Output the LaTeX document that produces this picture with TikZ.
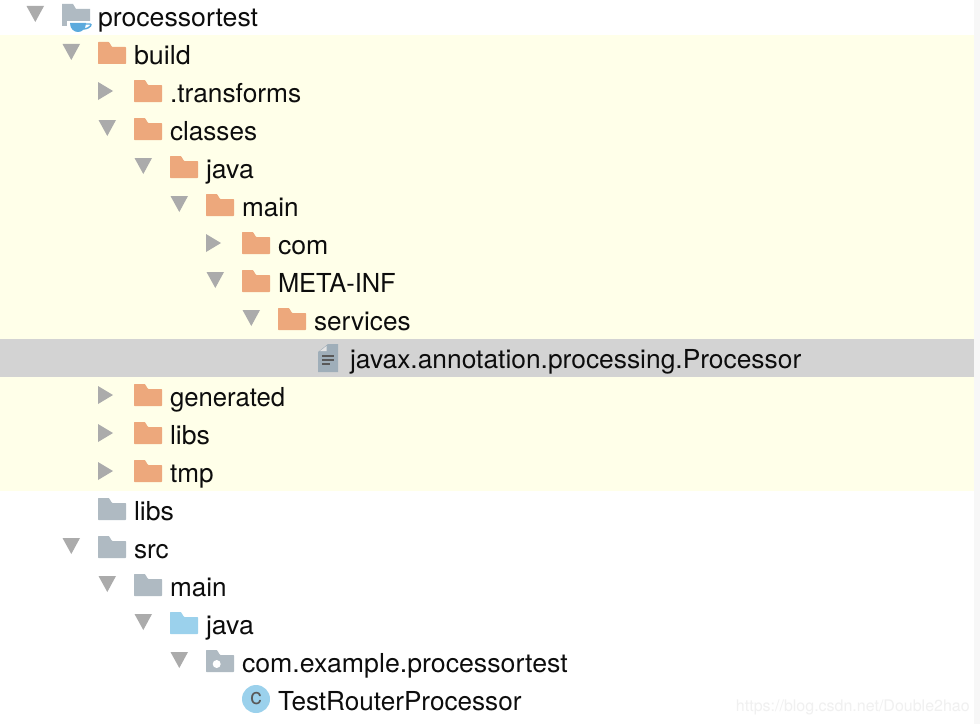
\documentclass[tikz,border=0pt]{standalone}
\usepackage{fontspec}
\usepackage{graphicx}
\setmainfont{TeX Gyre Heros}
\definecolor{bandyellow}{HTML}{FFFFE9}
\definecolor{selgrey}{HTML}{D3D3D3}
\definecolor{orangefolder}{HTML}{EDA87C}
\definecolor{greyfolder}{HTML}{AFBAC2}
\definecolor{bluefolder}{HTML}{9BD1EC}
\definecolor{cupblue}{HTML}{5BAADD}
\definecolor{trigrey}{HTML}{ABABAB}
\definecolor{filegrey}{HTML}{9FAEB9}
\definecolor{stripgrey}{HTML}{F7F7F7}
\definecolor{markgrey}{HTML}{F0F0F0}
\tikzset{
  x=0.75pt,y=-0.75pt,
  label text/.style={anchor=base west,inner sep=0pt,outer sep=0pt,font=\fontsize{19.6pt}{22pt}\selectfont,text=black!95},
  tri/.style={fill=trigrey,draw=none},
}
% #1 x of the icon, #2 y of the row, #3 colour
\newcommand{\foldericon}[3]{%
  \fill[#3,rounded corners=0.5pt] (#1,#2-13) -- (#1+11,#2-13) -- (#1+14,#2-8) -- (#1+28,#2-8) -- (#1+28,#2+9) -- (#1,#2+9) -- cycle;}
\newcommand{\triopen}[2]{\fill[tri] (#1-35.5,#2-11) -- (#1-18,#2-11) -- (#1-26.7,#2+5) -- cycle;}
\newcommand{\triclosed}[2]{\fill[tri] (#1-36,#2-11) -- (#1-21,#2-2) -- (#1-36,#2+7) -- cycle;}
\newcommand{\rowtext}[5][1]{\node[label text] (#2) at (#3+36,#4+9) {\scalebox{#1}[1]{#5}};}
\begin{document}
\begin{tikzpicture}
\useasboundingbox (0,0) rectangle (980,724);
\fill[white] (0,0) rectangle (980,724);
\fill[stripgrey] (974,0) rectangle (980,724);
\fill[bandyellow] (0,35) rectangle (974,491);
\fill[selgrey] (0,339) rectangle (974,377);
% module row
\triopen{62}{17}
\fill[greyfolder] (62,4) -- (73,4) -- (76,9) -- (90,9) -- (90,26) -- (62,26) -- cycle;
\fill[white] (67,21) rectangle (92,34.5);
\fill[cupblue] (70,23) -- (86,23) .. controls (86,29) and (82,32) .. (78,32) .. controls (74,32) and (70,29) .. (70,23) -- cycle;
\draw[cupblue,line width=1.1pt] (85,24) -- (90,24) .. controls (92,24) and (91,28) .. (84,29);
\rowtext[1.02]{n1}{62}{17.5}{processortest}
% build tree
\triopen{98}{55} \foldericon{98}{55}{orangefolder} \rowtext[1.03]{n2}{98}{55.5}{build}
\triclosed{134}{93} \foldericon{134}{93}{orangefolder} \rowtext[1.007]{n3}{134}{93}{.transforms}
\triopen{134}{131} \foldericon{134}{131}{orangefolder} \rowtext{n4}{134}{131}{classes}
\triopen{170}{169} \foldericon{170}{169}{orangefolder} \rowtext[1.02]{n5}{170}{169}{java}
\triopen{206}{207} \foldericon{206}{207}{orangefolder} \rowtext{n6}{206}{207}{main}
\triclosed{242}{245} \foldericon{242}{245}{orangefolder} \rowtext[1.02]{n7}{242}{245}{com}
\triopen{242}{283} \foldericon{242}{283}{orangefolder} \rowtext[0.975]{n8}{242}{283}{META-INF}
\triopen{278}{321} \foldericon{278}{321}{orangefolder} \rowtext{n9}{278}{321}{services}
% file
\fill[filegrey] (318,352) -- (328,344) -- (338,344) -- (338,372) -- (318,372) -- cycle;
\fill[selgrey!60!white] (320,351) -- (326.5,346) -- (326.5,351) -- cycle;
\draw[black!65,line width=1pt] (322,356) -- (334,356) (322,360) -- (334,360) (322,364) -- (330,364);
\rowtext[1.009]{n10}{314}{359}{javax.annotation.processing.Processor}
\triclosed{134}{397} \foldericon{134}{397}{orangefolder} \rowtext[0.983]{n11}{134}{397}{generated}
\triclosed{134}{435} \foldericon{134}{435}{orangefolder} \rowtext[1.02]{n12}{134}{435}{libs}
\triclosed{134}{473} \foldericon{134}{473}{orangefolder} \rowtext[1.0]{n13}{134}{473}{tmp}
% lower tree
\foldericon{98}{511}{greyfolder} \rowtext[1.02]{n14}{98}{511}{libs}
\triopen{98}{549} \foldericon{98}{549}{greyfolder} \rowtext{n15}{98}{549}{src}
\triopen{134}{587} \foldericon{134}{587}{greyfolder} \rowtext{n16}{134}{587}{main}
\triopen{170}{625} \foldericon{170}{625}{bluefolder} \rowtext[1.02]{n17}{170}{625}{java}
\triopen{206}{663} \foldericon{206}{663}{greyfolder}
\fill[white] (216.7,664) circle[radius=4];
\rowtext[1.022]{n18}{206}{663}{com.example.processortest}
\node[circle,fill=bluefolder,minimum size=21pt,inner sep=0pt,font=\fontsize{17pt}{17pt}\selectfont,text=black!65] (n19) at (256,699) {c};
\rowtext{n20}{242}{701}{TestRouterProcessor}
\node[anchor=base east,inner sep=0pt,font=\fontsize{12pt}{12pt}\selectfont,text=markgrey] (n21) at (970,711) {https://blog.csdn.net/Double2hao};
\end{tikzpicture}
\end{document}
